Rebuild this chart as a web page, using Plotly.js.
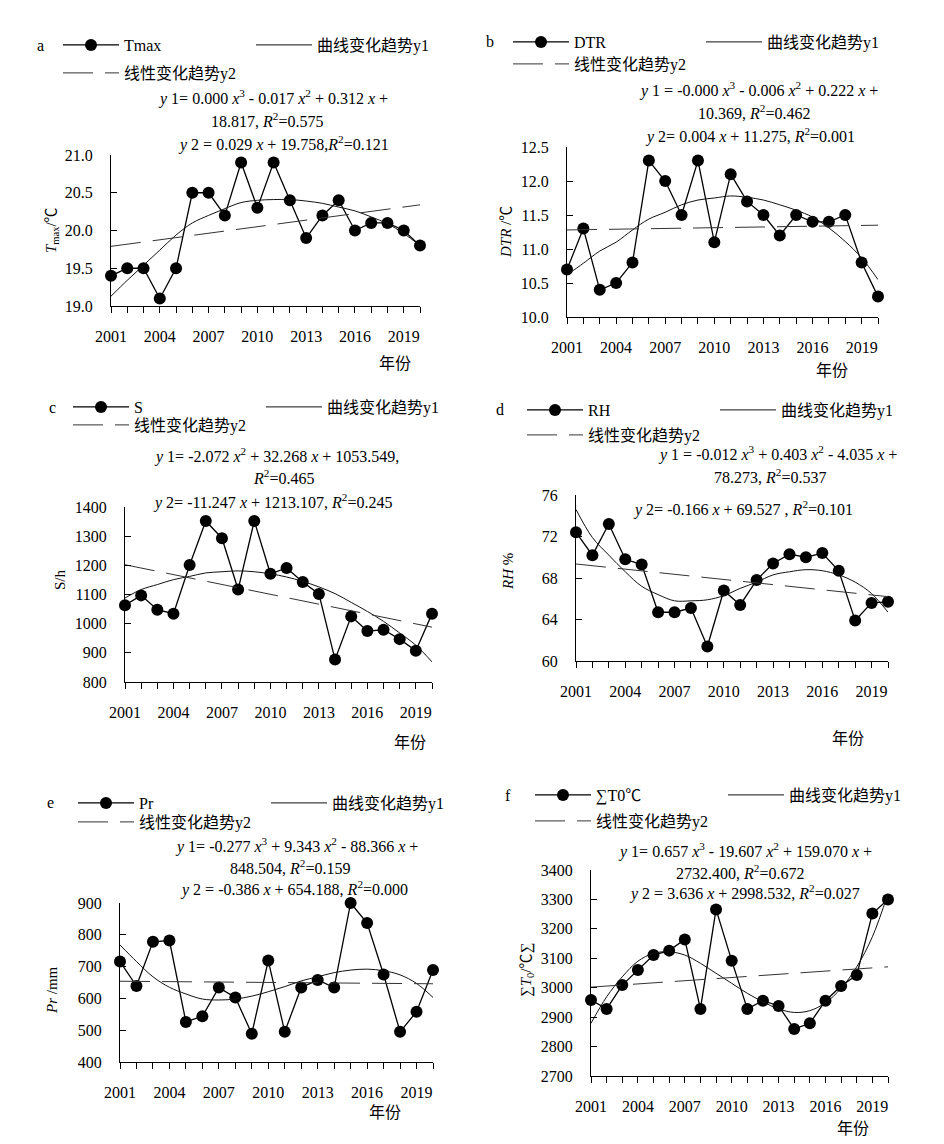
<!DOCTYPE html>
<html><head><meta charset="utf-8">
<script src="https://cdn.plot.ly/plotly-3.0.1.min.js"></script>
<style>html,body{margin:0;padding:0;background:#fff}#chart{width:944px;height:1144px}</style>
</head><body><div id="chart"></div>
<script>
// ---------------- DATA ----------------
const years = [2001,2002,2003,2004,2005,2006,2007,2008,2009,2010,2011,2012,2013,2014,2015,2016,2017,2018,2019,2020];
const tickLabels = ['2001','','','2004','','','2007','','','2010','','','2013','','','2016','','','2019',''];
const linYears = [2001, 2020];

const tmax       = [19.4,19.5,19.5,19.1,19.5,20.5,20.5,20.2,20.9,20.3,20.9,20.4,19.9,20.2,20.4,20.0,20.1,20.1,20.0,19.8];
const tmaxCurve  = [19.13,19.34,19.54,19.74,19.94,20.1,20.2,20.29,20.37,20.4,20.41,20.41,20.39,20.36,20.31,20.26,20.18,20.09,19.96,19.8];
const tmaxLinear = [19.79, 20.34];

const dtr        = [10.7,11.3,10.4,10.5,10.8,12.3,12.0,11.5,12.3,11.1,12.1,11.7,11.5,11.2,11.5,11.4,11.4,11.5,10.8,10.3];
const dtrCurve   = [10.62,10.79,10.97,11.1,11.28,11.44,11.54,11.65,11.72,11.75,11.78,11.76,11.72,11.65,11.57,11.47,11.31,11.11,10.87,10.55];
const dtrLinear  = [11.28, 11.35];

const sun        = [1063,1097,1048,1034,1201,1352,1293,1117,1352,1171,1191,1143,1102,877,1025,975,979,947,907,1034];
const sunCurve   = [1088,1117,1134,1151,1162,1174,1178,1181,1178,1171,1160,1145,1126,1103,1073,1042,1008,968,926,869];
const sunLinear  = [1202, 988];

const rh         = [72.4,70.2,73.2,69.8,69.3,64.7,64.7,65.1,61.4,66.8,65.4,67.8,69.4,70.3,70.0,70.4,68.7,63.9,65.6,65.7];
const rhCurve    = [74.6,71.9,70.2,68.6,67.2,66.4,65.8,65.8,65.9,66.3,67.0,67.6,68.3,68.6,68.8,68.7,68.3,67.6,66.5,64.7];
const rhLinear   = [69.35, 66.2];

const pr         = [716,639,778,782,526,544,634,603,489,719,495,634,658,634,900,837,675,495,558,689];
const prCurve    = [768,716,668,635,614,598,595,598,607,621,637,655,668,681,689,692,687,674,647,603];
const prLinear   = [654, 646];

const gdd        = [2958,2928,3009,3060,3111,3126,3164,2928,3266,3092,2928,2956,2938,2860,2879,2956,3006,3043,3252,3300];
const gddCurve   = [2879,2969,3037,3090,3117,3122,3111,3083,3049,3015,2981,2952,2928,2916,2922,2949,2998,3071,3173,3320];
const gddLinear  = [3002, 3071];

const seriesNames = ['Tmax','DTR','S','RH','Pr','∑T0℃'];
const curveName = '曲线变化趋势y1';
const linearName = '线性变化趋势y2';
const panelLetters = ['a','b','c','d','e','f'];
const yTitles = ['<i>T</i><sub>max</sub>/℃','<i>DTR</i> /℃','S/h','<i>RH</i> %','<i>Pr</i> /mm','∑<i>T</i><sub>0</sub>/℃∑'];
const xTitle = '年份';
const equations = [
  ['<i>y</i> 1= 0.000 <i>x</i><sup>3</sup> - 0.017 <i>x</i><sup>2</sup> + 0.312 <i>x</i> +','18.817, <i>R</i><sup>2</sup>=0.575','<i>y</i> 2 = 0.029 <i>x</i> + 19.758,<i>R</i><sup>2</sup>=0.121'],
  ['<i>y</i> 1 = -0.000 <i>x</i><sup>3</sup> - 0.006 <i>x</i><sup>2</sup> + 0.222 <i>x</i> +','10.369, <i>R</i><sup>2</sup>=0.462','<i>y</i> 2= 0.004 <i>x</i> + 11.275, <i>R</i><sup>2</sup>=0.001'],
  ['<i>y</i> 1= -2.072 <i>x</i><sup>2</sup> + 32.268 <i>x</i> + 1053.549,','<i>R</i><sup>2</sup>=0.465','<i>y</i> 2= -11.247 <i>x</i> + 1213.107, <i>R</i><sup>2</sup>=0.245'],
  ['<i>y</i> 1 = -0.012 <i>x</i><sup>3</sup> + 0.403 <i>x</i><sup>2</sup> - 4.035 <i>x</i> +','78.273, <i>R</i><sup>2</sup>=0.537','<i>y</i> 2= -0.166 <i>x</i> + 69.527 , <i>R</i><sup>2</sup>=0.101'],
  ['<i>y</i> 1= -0.277 <i>x</i><sup>3</sup> + 9.343 <i>x</i><sup>2</sup> - 88.366 <i>x</i> +','848.504, <i>R</i><sup>2</sup>=0.159','<i>y</i> 2 = -0.386 <i>x</i> + 654.188, <i>R</i><sup>2</sup>=0.000'],
  ['<i>y</i> 1= 0.657 <i>x</i><sup>3</sup> - 19.607 <i>x</i><sup>2</sup> + 159.070 <i>x</i> +','2732.400, <i>R</i><sup>2</sup>=0.672','<i>y</i> 2 = 3.636 <i>x</i> + 2998.532, <i>R</i><sup>2</sup>=0.027']
];
const yRanges = [[19,21],[10,12.5],[800,1400],[60,76],[400,900],[2700,3400]];
const yDticks = [0.5,0.5,100,4,100,100];

// ---------------- LAYOUT (pixel positions) ----------------
const W = 944, H = 1144;
const fx = p => p / W, fy = p => 1 - p / H;
const FONT = 'Liberation Serif, Noto Sans CJK SC, serif';

const panels = [
  {data:tmax, curve:tmaxCurve, lin:tmaxLinear, box:[111,420,155,306], fmt:'.1f', letter:[40,45], leg1:[58,45], leg2:[58,73], eq:[[273,97],[267,120],[283,143]], yt:[52,230], xt:[395,363]},
  {data:dtr,  curve:dtrCurve,  lin:dtrLinear,  box:[567,878,147,317], fmt:'.1f', letter:[490,42], leg1:[508,42], leg2:[508,64], eq:[[758,90],[754,112],[750,136]], yt:[506,232], xt:[832,370]},
  {data:sun,  curve:sunCurve,  lin:sunLinear,  box:[125,432,507,682], fmt:'d',   letter:[52,407], leg1:[68,407], leg2:[68,425], eq:[[276,455],[283,477],[272,502]], yt:[60,580], xt:[410,742]},
  {data:rh,   curve:rhCurve,   lin:rhLinear,   box:[576,888,495,661], fmt:'d',   letter:[500,410], leg1:[522,410], leg2:[522,435], eq:[[777,453],[770,476],[743,508]], yt:[508,572], xt:[848,738]},
  {data:pr,   curve:prCurve,   lin:prLinear,   box:[120,433,903,1062], fmt:'d',  letter:[50,803], leg1:[73,803], leg2:[73,822], eq:[[296,845],[290,867],[294,888]], yt:[52,990], xt:[385,1112]},
  {data:gdd,  curve:gddCurve,  lin:gddLinear,  box:[591,888,870,1076], fmt:'d',  letter:[508,795], leg1:[530,795], leg2:[530,821], eq:[[745,850],[740,872],[744,892]], yt:[527,970], xt:[853,1128]}
];

const traces = [];
const layout = {
  width: W, height: H, margin:{l:0,r:0,t:0,b:0,autoexpand:false},
  paper_bgcolor:'#fff', plot_bgcolor:'#fff',
  font:{family:FONT, size:16, color:'#000'},
  showlegend:true, annotations:[]
};

panels.forEach((p, i) => {
  const n = i + 1;
  const xa = 'xaxis' + (n === 1 ? '' : n), ya = 'yaxis' + (n === 1 ? '' : n);
  const xr = 'x' + (n === 1 ? '' : n), yr = 'y' + (n === 1 ? '' : n);
  const lg1 = 'legend' + (2*i === 0 ? '' : (2*i + 1)), lg2 = 'legend' + (2*i + 2);
  layout[xa] = {
    domain:[fx(p.box[0]), fx(p.box[1])], anchor:yr, range:[2001, 2020],
    tickmode:'array', tickvals:years, ticktext:tickLabels,
    ticks:'outside', ticklen:6, tickwidth:1, tickcolor:'#000',
    showline:true, linecolor:'#000', linewidth:1, showgrid:false, zeroline:false,
    ticklabelstandoff:10, tickfont:{size:16, family:FONT}
  };
  layout[ya] = {
    domain:[fy(p.box[3]), fy(p.box[2])], anchor:xr, range:yRanges[i],
    dtick:yDticks[i], tick0:yRanges[i][0], tickformat:p.fmt,
    ticks:'inside', ticklen:6, tickwidth:1, tickcolor:'#000',
    showline:true, linecolor:'#000', linewidth:1, showgrid:false, zeroline:false,
    ticklabelstandoff:14, tickfont:{size:16, family:FONT}
  };
  layout[lg1] = {x:fx(p.leg1[0]), y:fy(p.leg1[1]), xanchor:'left', yanchor:'middle', orientation:'h',
    entrywidth:122, entrywidthmode:'pixels', bgcolor:'rgba(0,0,0,0)', font:{size:16, family:FONT}, itemwidth:56, traceorder:'normal'};
  layout[lg2] = {x:fx(p.leg2[0]), y:fy(p.leg2[1]), xanchor:'left', yanchor:'middle', orientation:'h',
    bgcolor:'rgba(0,0,0,0)', font:{size:16, family:FONT}, itemwidth:56};

  traces.push({x:years, y:p.data, xaxis:xr, yaxis:yr, type:'scatter', mode:'lines+markers', name:seriesNames[i],
    line:{color:'#000', width:1.3}, marker:{color:'#000', size:12}, cliponaxis:false, legend:lg1});
  traces.push({x:years, y:p.curve, xaxis:xr, yaxis:yr, type:'scatter', mode:'lines', name:curveName,
    line:{color:'#111', width:1, shape:'spline'}, legend:lg1});
  traces.push({x:linYears, y:p.lin, xaxis:xr, yaxis:yr, type:'scatter', mode:'lines', name:linearName,
    line:{color:'#333', width:1, dash:'30px,12px'}, legend:lg2});

  const A = layout.annotations;
  A.push({text:panelLetters[i], x:fx(p.letter[0]), y:fy(p.letter[1]), xref:'paper', yref:'paper', showarrow:false, xanchor:'center', yanchor:'middle', font:{size:16, family:FONT}});
  equations[i].forEach((t, k) => A.push({text:t, x:fx(p.eq[k][0]), y:fy(p.eq[k][1]), xref:'paper', yref:'paper', showarrow:false, xanchor:'center', yanchor:'middle', font:{size:16, family:FONT}}));
  A.push({text:yTitles[i], x:fx(p.yt[0]), y:fy(p.yt[1]), xref:'paper', yref:'paper', showarrow:false, textangle:-90, xanchor:'center', yanchor:'middle', font:{size:15, family:FONT}});
  A.push({text:xTitle, x:fx(p.xt[0]), y:fy(p.xt[1]), xref:'paper', yref:'paper', showarrow:false, xanchor:'center', yanchor:'middle', font:{size:16, family:FONT}});
});

Plotly.newPlot('chart', traces, layout, {staticPlot:true});
</script>
</body></html>
